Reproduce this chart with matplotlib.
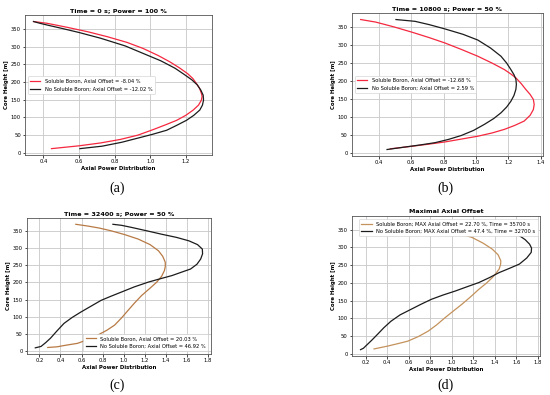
# Axial power distribution with and without soluble boron - four panels

import numpy as np
import matplotlib.pyplot as plt
from matplotlib.ticker import MultipleLocator

# (a) Time = 0 s; Power = 100 %
a_sb_y = [12, 20, 28, 38, 50, 66, 80, 92, 106, 121, 135, 149, 160, 168, 182, 196, 210, 224, 240, 257, 275, 295, 312, 328, 342, 355, 366, 371]
a_sb_x = [0.445, 0.60, 0.72, 0.832, 0.93, 1.018, 1.09, 1.149, 1.20, 1.242, 1.272, 1.288, 1.292, 1.288, 1.278, 1.260, 1.240, 1.210, 1.165, 1.111, 1.045, 0.96, 0.87, 0.76, 0.65, 0.53, 0.42, 0.344]
a_nsb_y = [12, 19, 30, 41, 52, 64, 78, 92, 106, 121, 135, 149, 163, 177, 192, 206, 222, 239, 260, 281, 302, 324, 340, 352, 360, 366, 371]
a_nsb_x = [0.605, 0.730, 0.84, 0.925, 1.01, 1.093, 1.15, 1.204, 1.245, 1.279, 1.294, 1.300, 1.298, 1.285, 1.265, 1.235, 1.190, 1.140, 1.060, 0.960, 0.860, 0.720, 0.600, 0.500, 0.430, 0.380, 0.344]

# (b) Time = 10800 s; Power = 50 %
b_sb_y = [12, 19, 25, 31, 39, 47, 56, 66, 77, 89, 105, 121, 135, 149, 163, 177, 193, 209, 220, 232, 250, 269, 288, 306, 321, 336, 351, 364, 371]
b_sb_x = [0.471, 0.604, 0.71, 0.808, 0.91, 1.012, 1.10, 1.176, 1.24, 1.298, 1.335, 1.355, 1.36, 1.355, 1.335, 1.308, 1.28, 1.247, 1.215, 1.176, 1.10, 1.012, 0.91, 0.808, 0.71, 0.604, 0.49, 0.380, 0.288]
b_nsb_y = [10, 17, 23, 29, 38, 49, 63, 80, 96, 112, 128, 144, 160, 177, 191, 205, 218, 232, 250, 269, 292, 314, 330, 345, 357, 366, 371]
b_nsb_x = [0.451, 0.563, 0.66, 0.747, 0.83, 0.910, 0.985, 1.053, 1.11, 1.155, 1.19, 1.216, 1.235, 1.247, 1.25, 1.247, 1.235, 1.216, 1.19, 1.155, 1.09, 1.012, 0.92, 0.808, 0.71, 0.624, 0.506]

# (c) Time = 32400 s; Power = 50 %
c_sb_y = [11, 13, 18, 23, 34, 47, 61, 76, 97, 119, 141, 162, 182, 201, 218, 235, 247, 259, 276, 292, 310, 326, 339, 350, 358, 364, 369]
c_sb_x = [0.280, 0.370, 0.46, 0.562, 0.66, 0.754, 0.84, 0.914, 0.98, 1.042, 1.105, 1.170, 1.245, 1.314, 1.36, 1.387, 1.395, 1.394, 1.37, 1.330, 1.25, 1.138, 1.01, 0.882, 0.77, 0.658, 0.546]
c_nsb_y = [10, 14, 25, 38, 60, 81, 98, 114, 131, 148, 160, 172, 187, 201, 211, 220, 230, 239, 253, 268, 283, 297, 310, 321, 331, 340, 350, 360, 366, 369]
c_nsb_x = [0.162, 0.216, 0.26, 0.306, 0.37, 0.434, 0.51, 0.594, 0.69, 0.786, 0.88, 0.978, 1.10, 1.234, 1.35, 1.458, 1.55, 1.634, 1.695, 1.730, 1.748, 1.746, 1.70, 1.618, 1.50, 1.362, 1.22, 1.074, 0.98, 0.898]

# (d) Maximal axial offset
d_sb_y = [14, 18, 22, 29, 36, 49, 64, 82, 102, 121, 140, 161, 182, 199, 215, 227, 239, 251, 262, 279, 295, 312, 328, 341, 352, 359, 364, 370]
d_sb_x = [0.278, 0.34, 0.404, 0.50, 0.592, 0.69, 0.780, 0.86, 0.937, 1.015, 1.094, 1.175, 1.251, 1.32, 1.376, 1.41, 1.439, 1.452, 1.455, 1.43, 1.376, 1.29, 1.188, 1.05, 0.906, 0.80, 0.700, 0.580]
d_nsb_y = [12, 16, 22, 38, 55, 74, 92, 110, 126, 140, 154, 166, 177, 189, 201, 215, 229, 241, 253, 270, 286, 298, 309, 322, 333, 343, 352, 362, 367, 370]
d_nsb_x = [0.153, 0.18, 0.200, 0.255, 0.310, 0.37, 0.435, 0.52, 0.624, 0.715, 0.812, 0.92, 1.031, 1.14, 1.251, 1.35, 1.439, 1.535, 1.627, 1.695, 1.737, 1.74, 1.722, 1.68, 1.627, 1.57, 1.502, 1.300, 1.100, 0.950]

red = '#f5283f'
black = '#1c1c1c'
orange_c = '#b87a45'
orange_d = '#c4925c'

fig = plt.figure(figsize=(5.5, 3.95), dpi=100)

panels = [
    # rect, title, curves, legend loc, tag, tag position (px)
    ([0.0455, 0.6076, 0.340, 0.354], 'Time = 0 s; Power = 100 %',
     [(a_sb_x, a_sb_y, red, 'Soluble Boron, Axial Offset = -8.04 %'),
      (a_nsb_x, a_nsb_y, black, 'No Soluble Boron; Axial Offset = -12.02 %')],
     'center left', '(a)', (117, 188)),
    ([0.640, 0.605, 0.347, 0.362], 'Time = 10800 s; Power = 50 %',
     [(b_sb_x, b_sb_y, red, 'Soluble Boron, Axial Offset = -12.68 %'),
      (b_nsb_x, b_nsb_y, black, 'No Soluble Boron; Axial Offset = 2.59 %')],
     'center left', '(b)', (445, 188)),
    ([0.049, 0.1038, 0.3345, 0.344], 'Time = 32400 s; Power = 50 %',
     [(c_sb_x, c_sb_y, orange_c, 'Soluble Boron, Axial Offset = 20.03 %'),
      (c_nsb_x, c_nsb_y, black, 'No Soluble Boron; Axial Offset = 46.92 %')],
     'lower right', '(c)', (117, 385)),
    ([0.640, 0.0987, 0.342, 0.354], 'Maximal Axial Offset',
     [(d_sb_x, d_sb_y, orange_d, 'Soluble Boron; MAX Axial Offset = 22.70 %, Time = 35700 s'),
      (d_nsb_x, d_nsb_y, black, 'No Soluble Boron; MAX Axial Offset = 47.4 %, Time = 32700 s')],
     'upper right', '(d)', (445, 385)),
]

for rect, title, curves, loc, tag, tag_pos in panels:
    ax = fig.add_axes(rect)
    for xs, ys, col, lab in curves:
        ax.plot(xs, ys, color=col, lw=0.9, label=lab)
    ax.set_title(title, fontsize=4.6, fontweight='bold', pad=2)
    ax.set_xlabel('Axial Power Distribution', fontsize=3.9, fontweight='bold', labelpad=1.5)
    ax.set_ylabel('Core Height [m]', fontsize=3.9, fontweight='bold', labelpad=1.5)
    ax.tick_params(labelsize=3.8, length=1.8, width=0.5, pad=1.2)
    ax.grid(True, color='#c8c8c8', lw=0.6)
    for s in ax.spines.values():
        s.set_linewidth(0.6)
        s.set_color('#555555')
    ax.xaxis.set_major_locator(MultipleLocator(0.2))
    ax.yaxis.set_major_locator(MultipleLocator(50))
    leg = ax.legend(loc=loc, fontsize=3.7, framealpha=1.0, handlelength=2.0,
                    borderpad=0.5, labelspacing=0.5)
    leg.get_frame().set_linewidth(0.4)
    fig.text(tag_pos[0] / 550, 1 - tag_pos[1] / 395, tag, ha='center', va='center',
             fontsize=10, family='Liberation Serif')

plt.savefig('out.png', dpi=100)
